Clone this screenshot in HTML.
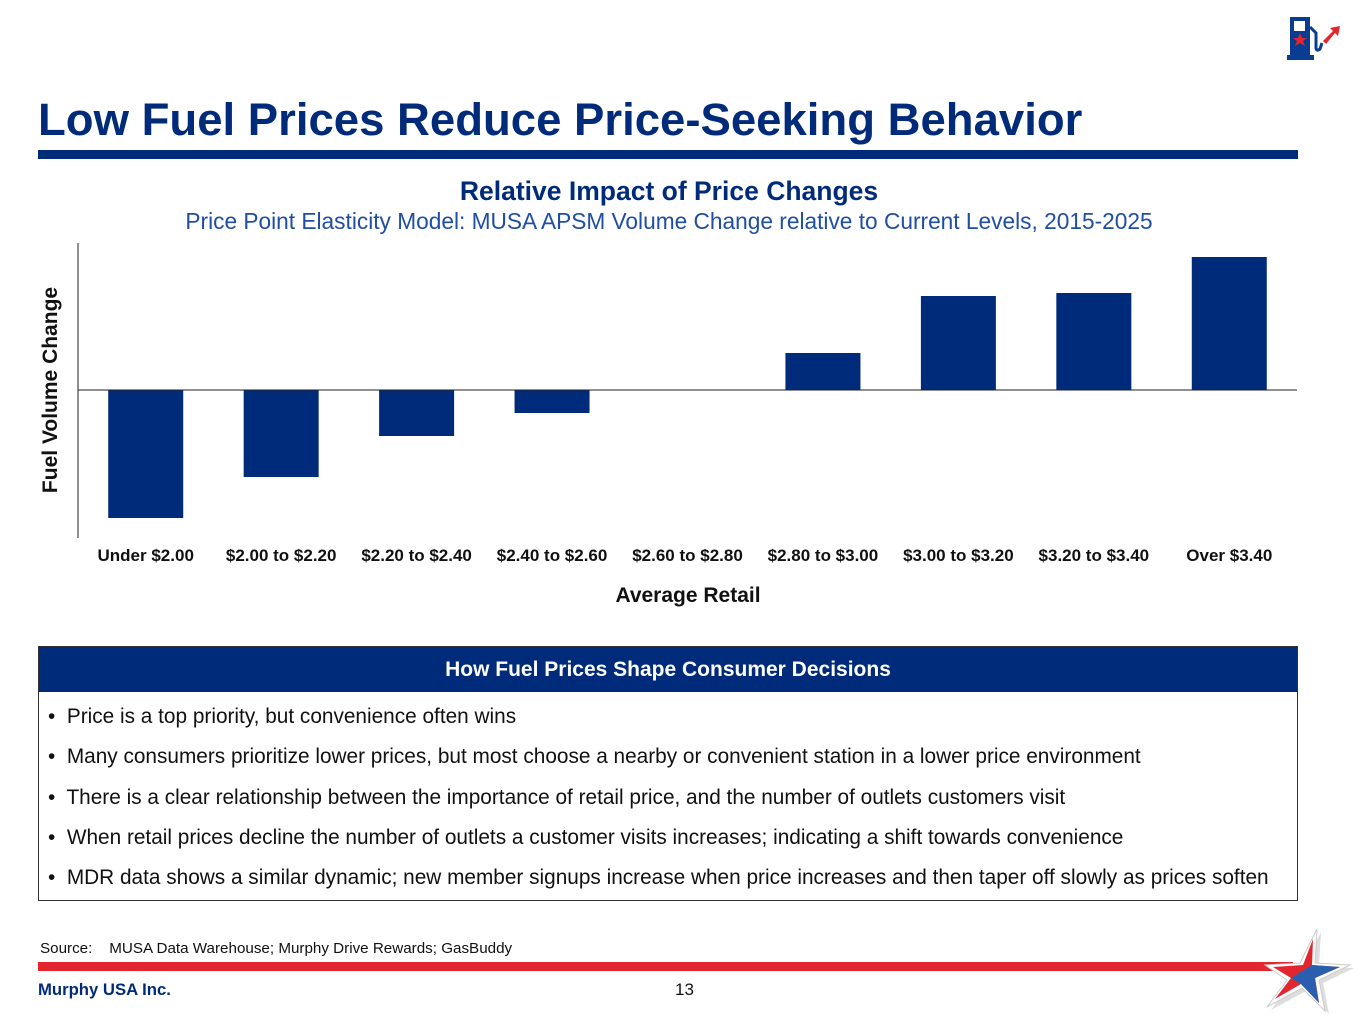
<!DOCTYPE html>
<html><head><meta charset="utf-8"><style>
body{margin:0;width:1365px;height:1024px;background:#fff;position:relative;overflow:hidden;font-family:"Liberation Sans",Arial,sans-serif}
.abs{position:absolute}
</style></head><body>
<div class="abs" style="left:38px;top:94px;font-size:45.5px;font-weight:bold;color:#002b7a;white-space:nowrap">Low Fuel Prices Reduce Price-Seeking Behavior</div>
<div class="abs" style="left:38px;top:150px;width:1260px;height:9px;background:#002b7a"></div>
<svg class="abs" style="left:1285px;top:15px" width="62" height="48" viewBox="0 0 62 48">
<rect x="5" y="2" width="20" height="38" fill="#0a3d91"/><rect x="9" y="6" width="11" height="10" fill="#fff"/><rect x="2" y="40" width="27" height="5" fill="#0a3d91"/>
<polygon points="15,18 17,23 22,23 18,26 20,31 15,28 10,31 12,26 8,23 13,23" fill="#e3262d"/>
<path d="M25 12 L31 18 L31 32 Q31 37 35 34 L37 28" stroke="#0a3d91" stroke-width="3" fill="none"/>
<polygon points="38,26 48,16 45,13 55,11 53,21 50,18 41,29" fill="#e3262d"/></svg>
<div class="abs" style="left:0;width:1338px;top:176px;text-align:center;font-size:26.5px;font-weight:bold;color:#002b7a">Relative Impact of Price Changes</div>
<div class="abs" style="left:0;width:1338px;top:208px;text-align:center;font-size:22.7px;color:#1f4ea3">Price Point Elasticity Model: MUSA APSM Volume Change relative to Current Levels, 2015-2025</div>
<svg class="abs" id="chart" style="left:0;top:0" width="1365" height="620"></svg>
<div class="abs" style="left:38px;top:646px;width:1258px;height:253px;border:1px solid #333">
<div style="background:#002b7a;color:#fff;font-weight:bold;font-size:21px;text-align:center;height:45px;line-height:45px">How Fuel Prices Shape Consumer Decisions</div>
<div style="font-size:20.8px;color:#111;padding-left:9px;line-height:40.3px;padding-top:5px;white-space:nowrap">
<div>•&nbsp; Price is a top priority, but convenience often wins</div>
<div>•&nbsp; Many consumers prioritize lower prices, but most choose a nearby or convenient station in a lower price environment</div>
<div>•&nbsp; There is a clear relationship between the importance of retail price, and the number of outlets customers visit</div>
<div>•&nbsp; When retail prices decline the number of outlets a customer visits increases; indicating a shift towards convenience</div>
<div>•&nbsp; MDR data shows a similar dynamic; new member signups increase when price increases and then taper off slowly as prices soften</div>
</div></div>
<div class="abs" style="left:40px;top:940px;font-size:15.2px;color:#111">Source:&nbsp;&nbsp;&nbsp; MUSA Data Warehouse; Murphy Drive Rewards; GasBuddy</div>
<div class="abs" style="left:38px;top:962px;width:1255px;height:9px;background:#e3262d"></div>
<div class="abs" style="left:38px;top:980px;font-size:16.7px;font-weight:bold;color:#002b7a">Murphy USA Inc.</div>
<div class="abs" style="left:675px;top:980px;font-size:17px;color:#111">13</div>
<svg class="abs" style="left:1255px;top:925px" width="100" height="90" viewBox="0 0 100 90">
<polygon points="62,4 60,38 95,40 64,55 70,86 47,63 12,82 32,55 10,40 45,38" fill="#ddd" transform="translate(4,3)"/>
<polygon points="62,4 60,38 95,40 64,55 70,86 47,63 12,82 32,55 10,40 45,38" fill="#fff" stroke="#ccc"/>
<polygon points="58,14 57,40 85,42 60,53 64,78 46,59 20,74 36,53 18,42 48,40" fill="#e3262d"/>
<polygon points="57,40 85,42 60,53 64,78 46,59 36,53" fill="#2a5fb0"/></svg>
<script>
const categories=["Under $2.00","$2.00 to $2.20","$2.20 to $2.40","$2.40 to $2.60","$2.60 to $2.80","$2.80 to $3.00","$3.00 to $3.20","$3.20 to $3.40","Over $3.40"];
const values=[-128,-87,-46,-23,0,37,94,97,133];
const NS="http://www.w3.org/2000/svg";
const svg=document.getElementById('chart');
const x0=78,x1=1297,yZero=390,yTop=243,yBot=538;
const step=(x1-x0)/categories.length;
function xc(i){return x0+step*(i+0.5);}
function y(v){return yZero-v;}
function mk(t,a){const e=document.createElementNS(NS,t);for(const k in a)e.setAttribute(k,a[k]);svg.appendChild(e);return e;}
const ax=mk('line',{x1:x0,y1:yTop,x2:x0,y2:yBot,stroke:'#222','stroke-width':1});


values.forEach((v,i)=>{
 const r=mk('rect',{x:xc(i)-37.5,y:Math.min(y(v),yZero),width:75,height:Math.abs(v),fill:'#002b7a'});
 
 
 const t=mk('text',{x:xc(i),y:561,'text-anchor':'middle','font-size':17,'font-weight':'bold',fill:'#111','font-family':'Liberation Sans, sans-serif'});
 t.textContent=categories[i];
 
 
});
const zl=mk('line',{x1:x0,y1:yZero,x2:x1,y2:yZero,stroke:'#222','stroke-width':1});


const xt=mk('text',{x:688,y:602,'text-anchor':'middle','font-size':21,'font-weight':'bold',fill:'#111','font-family':'Liberation Sans, sans-serif'});
xt.textContent='Average Retail';


const yt=mk('text',{x:0,y:0,transform:'translate(57,390) rotate(-90)','text-anchor':'middle','font-size':21,'font-weight':'bold',fill:'#111','font-family':'Liberation Sans, sans-serif'});
yt.textContent='Fuel Volume Change';


</script>
</body></html>
